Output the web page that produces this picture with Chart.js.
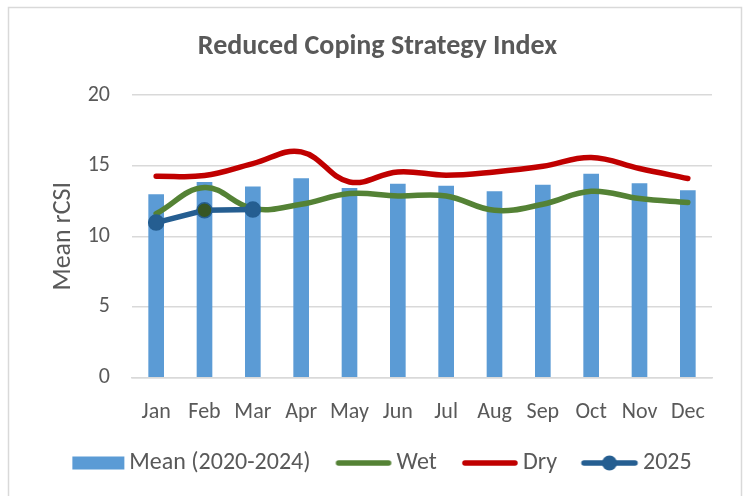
<!DOCTYPE html>
<html>
<head>
<meta charset="utf-8">
<script src="https://cdn.jsdelivr.net/npm/chart.js@4.4.1/dist/chart.umd.min.js"></script>
<style>
html,body{margin:0;padding:0;background:#fff;}
#wrap{width:747px;height:496px;position:relative;}
</style>
</head>
<body>
<div id="wrap"><canvas id="c" width="747" height="496"></canvas></div>
<script>
const categories = ['Jan','Feb','Mar','Apr','May','Jun','Jul','Aug','Sep','Oct','Nov','Dec'];
const meanValues = [12.96, 13.83, 13.5, 14.09, 13.4, 13.69, 13.55, 13.17, 13.62, 14.4, 13.74, 13.24];
const wetValues = [11.6, 13.45, 11.96, 12.27, 13.03, 12.86, 12.86, 11.84, 12.27, 13.19, 12.67, 12.39];
const dryValues = [14.26, 14.3, 15.15, 15.98, 13.85, 14.56, 14.33, 14.56, 14.96, 15.58, 14.8, 14.09];
const values2025 = [10.97, 11.84, 11.89, null, null, null, null, null, null, null, null, null];
const yTicks = [0, 5, 10, 15, 20];
const seriesNames = ['Mean (2020-2024)', 'Wet', 'Dry', '2025'];

const FONT = "Carlito, 'Open Sans', 'Noto Sans', sans-serif";
const GREY = '#595959';
const C_BAR = '#5B9BD5', C_WET = '#548235', C_DRY = '#C00000', C_2025 = '#255E91';
const LEG_FONT = 24, LEG_GAP = 5, LEG_PAD = 14, LEG_BOX = 54;

function legendIcon(kind, color, W) {
  const cv = document.createElement('canvas');
  const h = 18;
  cv.width = W + 2 * LEG_PAD; cv.height = h;
  const g = cv.getContext('2d');
  const a = LEG_BOX / 2 + LEG_PAD + LEG_FONT / 2 - LEG_GAP - W / 2;
  if (kind === 'bar') { g.fillStyle = color; g.fillRect(a, (h - 13) / 2, W, 13); }
  else {
    g.strokeStyle = color; g.lineWidth = 5.5; g.lineCap = 'round';
    g.beginPath(); g.moveTo(a + 3, h / 2); g.lineTo(a + W - 3, h / 2); g.stroke();
    if (kind === 'marker') { g.fillStyle = color; g.beginPath(); g.arc(a + W / 2, h / 2, 7.5, 0, Math.PI * 2); g.fill(); }
  }
  return cv;
}
const icons = [legendIcon('bar', C_BAR, 52), legendIcon('line', C_WET, 56), legendIcon('line', C_DRY, 56), legendIcon('marker', C_2025, 57)];

const borderPlugin = {
  id: 'frame',
  beforeDraw(chart) {
    const ctx = chart.ctx;
    ctx.save();
    ctx.fillStyle = '#fff';
    ctx.fillRect(0, 0, chart.width, chart.height);
    ctx.strokeStyle = '#D9D9D9';
    ctx.lineWidth = 1.5;
    ctx.strokeRect(8.5, 7.5, 733, 500);
    ctx.restore();
  }
};

new Chart(document.getElementById('c'), {
  data: {
    labels: categories,
    datasets: [
      { type: 'bar', label: seriesNames[0], data: meanValues, backgroundColor: C_BAR, barThickness: 15, order: 4 },
      { type: 'line', label: seriesNames[1], data: wetValues, borderColor: C_WET, borderWidth: 5.5, tension: 0.4, pointRadius: 0, fill: false, borderCapStyle: 'round', order: 3 },
      { type: 'line', label: seriesNames[2], data: dryValues, borderColor: C_DRY, borderWidth: 5.5, tension: 0.4, pointRadius: 0, fill: false, borderCapStyle: 'round', order: 2 },
      { type: 'line', label: seriesNames[3], data: values2025, borderColor: C_2025, borderWidth: 5.5, tension: 0, pointRadius: 7.5, pointBackgroundColor: [C_2025, '#375623', C_2025], pointBorderColor: C_2025, pointBorderWidth: 1.5, fill: false, order: 1 }
    ]
  },
  options: {
    responsive: false,
    animation: false,
    layout: { padding: { left: 30, right: 22, top: 0, bottom: 11 } },
    plugins: {
      title: { display: true, text: 'Reduced Coping Strategy Index', color: GREY, font: { family: FONT, size: 28, weight: 'bold' }, padding: { top: 30.5, bottom: 31 } },
      legend: {
        position: 'bottom',
        labels: {
          color: GREY, font: { family: FONT, size: LEG_FONT }, usePointStyle: true, pointStyleWidth: LEG_BOX, boxHeight: 13, padding: 20,
          generateLabels(chart) {
            return seriesNames.map((n, i) => ({ text: n, pointStyle: icons[i], fontColor: GREY, datasetIndex: i, hidden: false, lineWidth: 0, strokeStyle: 'transparent', fillStyle: 'transparent' }));
          }
        }
      },
      tooltip: { enabled: false }
    },
    scales: {
      x: {
        grid: { display: false, drawTicks: false },
        border: { display: true, color: '#D9D9D9', width: 1.5 },
        ticks: { color: GREY, font: { family: FONT, size: 22 }, padding: 22 },
        afterFit(s) { s.height = 53.5; }
      },
      y: {
        min: 0, max: 20,
        afterBuildTicks(s) { s.ticks = yTicks.map(v => ({ value: v })); },
        grid: { color: '#D9D9D9', lineWidth: 1.5, drawTicks: false },
        border: { display: false },
        ticks: { color: GREY, font: { family: FONT, size: 22 }, padding: 22 },
        title: { display: true, text: 'Mean rCSI', color: GREY, font: { family: FONT, size: 26 }, padding: { top: 17.4, bottom: 0 } },
        afterFit(s) { s.width = 102; }
      },
      yRight: {
        position: 'right', display: true,
        grid: { display: false, drawTicks: false },
        border: { display: false },
        ticks: { display: false },
        afterFit(s) { s.width = 13; }
      }
    }
  },
  plugins: [borderPlugin]
});
</script>
</body>
</html>
